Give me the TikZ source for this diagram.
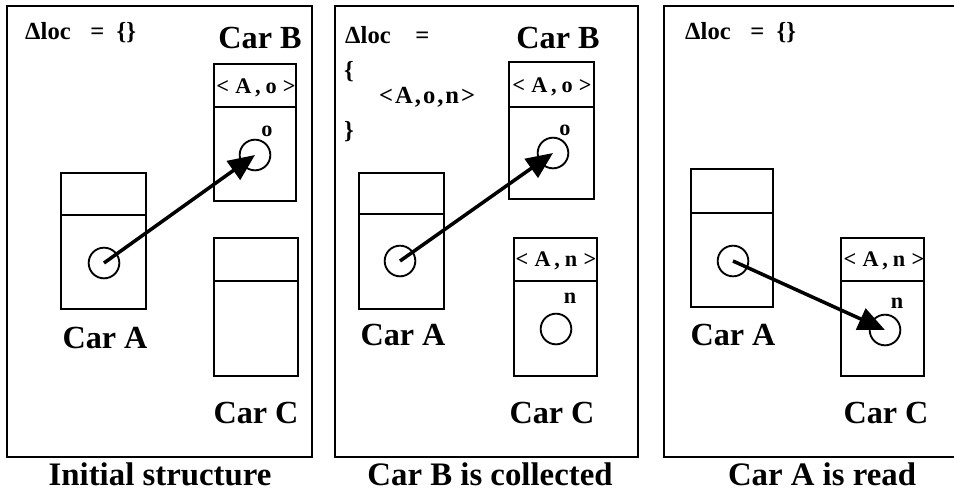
\documentclass[tikz,border=0pt]{standalone}
\usepackage{fontspec}
\setmainfont{Liberation Serif}
\usetikzlibrary{arrows.meta}
\tikzset{
  frame/.style={line width=2.4pt},
  car/.style={line width=2.2pt},
  obj/.style={draw, circle, line width=1.6pt, minimum size=0.92cm, inner sep=0pt},
  ptr/.style={line width=3pt, -{Triangle[length=0.8cm,width=0.68cm]}},
  carlbl/.style={font=\fontsize{27.5}{30}\selectfont\bfseries, inner sep=0pt},
  caption/.style={font=\fontsize{28}{31}\selectfont\bfseries, inner sep=0pt, anchor=base},
  hdr/.style={font=\fontsize{19}{21}\selectfont\bfseries, inner sep=0pt},
  objlbl/.style={font=\fontsize{19}{21}\selectfont\bfseries, inner sep=0pt},
  loc/.style={font=\fontsize{21}{24}\selectfont\bfseries, inner sep=0pt, anchor=west}
}
\newcommand{\pair}[2]{<\hspace{.28em}#1\hspace{.17em},\hspace{.22em}#2\hspace{.28em}>}
\newcommand{\carbox}[5]{\draw[car] (#1,#3) rectangle (#2,#5); \draw[car] (#1,#4) -- (#2,#4);}
\begin{document}
\begin{tikzpicture}[x=0.03cm,y=-0.03cm]
\useasboundingbox (0,0) rectangle (954,493);
\draw[frame] (7,6) rectangle (312,457);
\draw[frame] (335,6) rectangle (638,457);
\draw[frame] (956,6) -- (664,6) -- (664,457) -- (956,457);
\foreach \x/\txt/\nm in {160/Initial structure/capinit,490/Car B is collected/capgc,822/Car A is read/capread}{
  \node[caption] (\nm) at (\x,485) {\txt};
}
% initial structure
\node[loc] (loci) at (25,33) {Δloc\hspace{.8em}=\hspace{.5em}\{\}};
\carbox{61}{146}{173}{215}{309}
\carbox{214}{296}{64}{107}{201}
\carbox{214}{298}{238}{281}{376}
\node[hdr] (hbi) at (256,88) {\pair{A}{o}};
\node[carlbl] (cbi) at (260,38) {Car B};
\node[carlbl] (cai) at (105,338) {Car A};
\node[carlbl] (cci) at (256,413) {Car C};
\node[obj] (ai) at (104,263) {};
\node[obj] (oi) at (255,155) {};
\node[objlbl] (loi) at (267,131) {o};
\draw[ptr] (ai.center) -- (oi.center);
% car B is collected
\node[loc] (locg) at (345,35) {Δloc\hspace{1em}=};
\node[loc] (lbg) at (344,72) {\{};
\node[loc] (setg) at (379,97) {<\hspace{.08em}A\hspace{.08em},\hspace{.08em}o\hspace{.08em},\hspace{.08em}n\hspace{.08em}>};
\node[loc] (rbg) at (344,132) {\}};
\carbox{359}{444}{173}{214}{309}
\carbox{509}{594}{62}{107}{199}
\carbox{514}{597}{238}{281}{376}
\node[hdr] (hbg) at (552,87) {\pair{A}{o}};
\node[hdr] (hcg) at (556,261) {\pair{A}{n}};
\node[carlbl] (cbg) at (558,38) {Car B};
\node[carlbl] (cag) at (403,335) {Car A};
\node[carlbl] (ccg) at (552,413) {Car C};
\node[obj] (ag) at (400,261) {};
\node[obj] (og) at (553,153) {};
\node[obj] (ng) at (556,329) {};
\node[objlbl] (log) at (565,130) {o};
\node[objlbl] (lng) at (570,298) {n};
\draw[ptr] (ag.center) -- (og.center);
% car A is read
\node[loc] (locr) at (685,33) {Δloc\hspace{.8em}=\hspace{.5em}\{\}};
\carbox{691}{773}{169}{213}{307}
\carbox{841}{924}{238}{281}{376}
\node[hdr] (hcr) at (884,261) {\pair{A}{n}};
\node[carlbl] (car) at (733,335) {Car A};
\node[carlbl] (ccr) at (886,413) {Car C};
\node[obj] (ar) at (733,261) {};
\node[obj] (nr) at (885,330) {};
\node[objlbl] (lnr) at (897,303) {n};
\draw[ptr] (ar.center) -- (nr.center);
\end{tikzpicture}
\end{document}
